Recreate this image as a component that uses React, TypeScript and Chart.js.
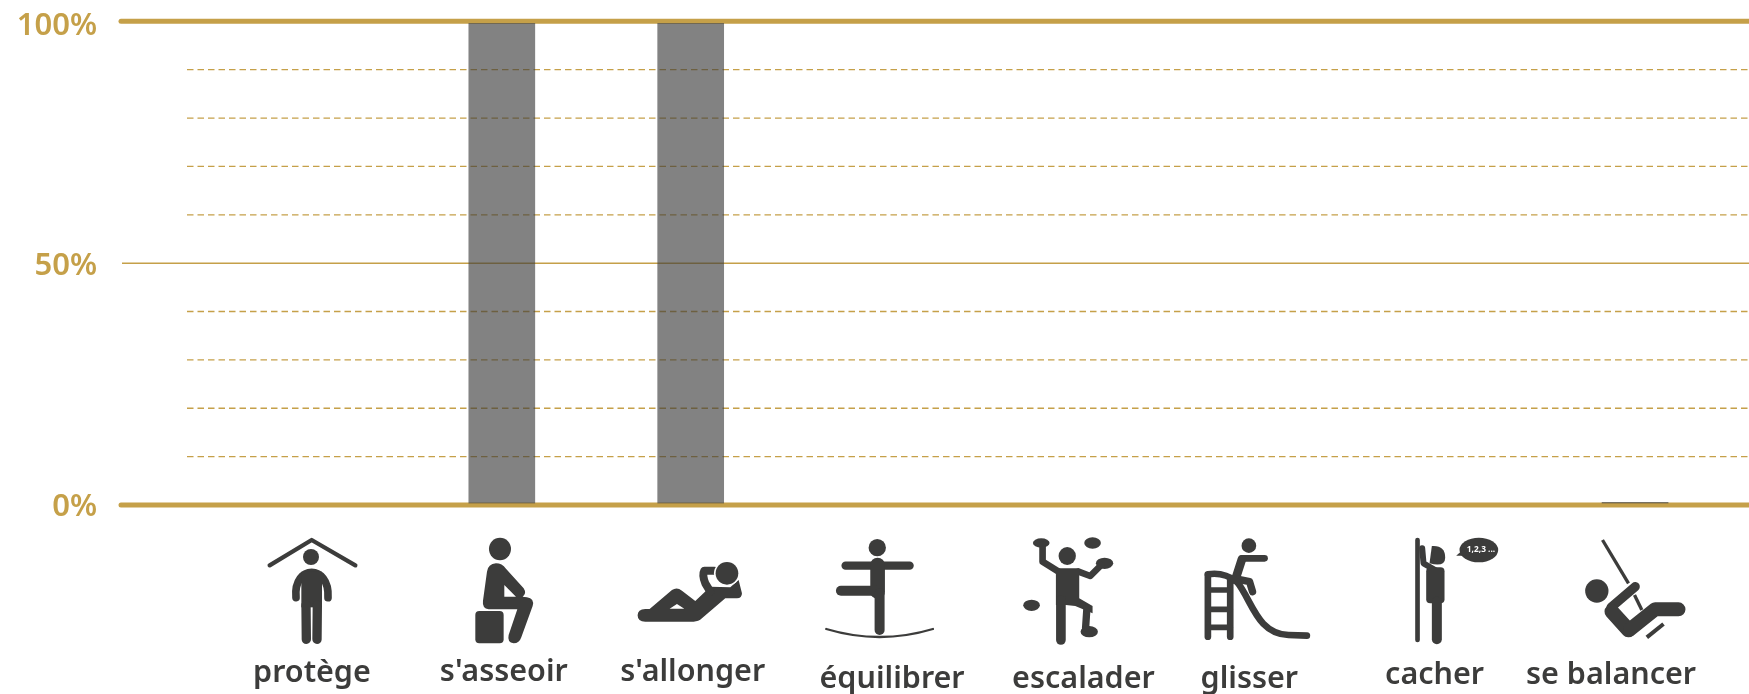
import React, { useEffect, useRef } from "react";
import { Chart, registerables } from "chart.js";

Chart.register(...registerables);

const categories = ["protège", "s'asseoir", "s'allonger", "équilibrer", "escalader", "glisser", "cacher", "se balancer"];
const values = [0, 100, 100, 0, 0, 0, 0, 0.3];
const majorLines = [0, 50, 100];
const dashedLines = [10, 20, 30, 40, 60, 70, 80, 90];
const yTickLabels = ["0%", "50%", "100%"];

const GOLD = "#c5a049";
const DARK = "#3c3c3b";
const BAR = "rgba(60,60,59,0.64)";

// label placement relative to each category centre
const labelDx = [-1, 2, 2, 12.5, 15, -8, -11.6, -24];
const labelY = [682, 681, 681, 688, 688, 688, 684, 684];
// pictogram crop origin relative to each category centre
const iconDx = [-62.6, -56.5, -60.4, -59.3, -53.2, -62.1, -46, -59.9];
const ICON_Y = 530;
// the rules sit a touch outside the bars' extent
const ruleValue = (v: number) => v * 1.00625 - 0.27;

type Ctx = CanvasRenderingContext2D;
const stroke = (c: Ctx, w: number, d: string, cap: CanvasLineCap = "round") => {
  c.lineWidth = w;
  c.lineCap = cap;
  c.lineJoin = "round";
  c.stroke(new Path2D(d));
};
const fill = (c: Ctx, d: string, rule: CanvasFillRule = "nonzero") => c.fill(new Path2D(d), rule);
const ell = (c: Ctx, x: number, y: number, rx: number, ry: number) => {
  c.beginPath();
  c.ellipse(x, y, rx, ry, 0, 0, Math.PI * 2);
  c.fill();
};

const icons: ((c: Ctx) => void)[] = [
  (c) => {
    stroke(c, 13, "M58 106 L184 30 L315 106");
    ell(c, 182, 81, 24, 24);
    stroke(c, 23, "M137 203 C132 150 160 127 184 127 C208 127 236 150 233 203");
    fill(c, "M153 125 L215 125 L215 232 L153 232 Z");
    stroke(c, 28, "M167 225 L168 328");
    stroke(c, 28, "M201 225 L200 328");
  },
  (c) => {
    ell(c, 164, 57, 33, 34);
    c.beginPath();
    c.roundRect(90, 243, 85, 97, 12);
    c.fill();
    fill(
      c,
      "M125 125 Q128 102 152 100 Q170 100 182 116 L235 175 Q245 190 232 200 L245 202 Q268 205 262 228 L228 322 Q222 340 205 340 Q185 338 190 315 L216 238 L130 238 Q110 235 113 212 Z M177 165 L177 200 L212 200 Z",
      "evenodd"
    );
  },
  (c) => {
    fill(
      c,
      "M45 237 L58 237 L125 180 Q140 170 155 182 L195 213 L240 170 L300 172 L325 150 L335 190 Q335 205 320 205 L285 205 L215 265 Q205 275 190 275 L45 275 Q22 275 22 256 Q22 238 45 237 Z M118 236 L162 236 L140 222 Z",
      "evenodd"
    );
    stroke(c, 24, "M252 122 L222 122 Q215 135 225 160 L240 185");
    c.fillStyle = "#ffffff";
    ell(c, 290, 130, 39, 38);
    c.fillStyle = DARK;
    ell(c, 290, 130, 34, 34);
  },
  (c) => {
    ell(c, 171, 53, 26, 26);
    stroke(c, 25, "M76 107 L268 107");
    stroke(c, 44, "M172 105 L172 185");
    stroke(c, 30, "M62 182 L165 182");
    stroke(c, 30, "M178 190 L178 300");
    stroke(c, 7, "M18 297 Q178 345 338 297");
  },
  (c) => {
    ell(c, 78, 39, 25, 14);
    ell(c, 232, 39, 25, 17);
    ell(c, 268, 100, 26, 17);
    ell(c, 49, 226, 25, 17);
    ell(c, 222, 305, 26, 17);
    ell(c, 156, 78, 26, 27);
    stroke(c, 20, "M82 45 L82 95 L130 125");
    stroke(c, 20, "M190 125 L225 138 L258 105");
    fill(c, "M122 115 L192 115 L192 205 L232 228 L232 250 L180 228 L152 225 L122 225 Z");
    stroke(c, 29, "M137 210 L137 330");
    stroke(c, 22, "M215 235 L211 295");
  },
  (c) => {
    ell(c, 161, 47, 22, 22);
    stroke(c, 20, "M140 85 L208 85");
    stroke(c, 26, "M140 88 L120 150");
    stroke(c, 22, "M130 148 L163 155 L172 185");
    stroke(c, 20, "M38 320 L38 135");
    stroke(c, 20, "M105 320 L105 145");
    stroke(c, 20, "M38 133 Q85 125 125 155 C170 210 185 312 280 315 L335 317");
    stroke(c, 17, "M38 180 L105 180");
    stroke(c, 17, "M38 238 L105 238");
    stroke(c, 17, "M38 292 L105 292");
  },
  (c) => {
    stroke(c, 14, "M52 30 L52 330");
    fill(c, "M95 48 Q135 45 135 83 Q135 112 88 100 Z");
    stroke(c, 18, "M66 55 L70 100 L118 128");
    c.beginPath();
    c.roundRect(78, 112, 55, 108, 12);
    c.fill();
    stroke(c, 30, "M110 215 L110 328");
    ell(c, 236, 60, 58, 37);
    fill(c, "M168 77 L190 58 L200 77 Z");
    c.fillStyle = "#ffffff";
    c.font = "700 25px 'Open Sans'";
    c.textAlign = "left";
    c.textBaseline = "middle";
    c.fillText("1,2,3 ...", 200, 60);
    c.fillStyle = DARK;
  },
  (c) => {
    stroke(c, 10, "M82 30 L160 160", "butt");
    stroke(c, 10, "M178 195 L200 240", "butt");
    ell(c, 65, 183, 35, 35);
    stroke(c, 28, "M180 170 L108 232");
    stroke(c, 44, "M110 245 L160 300");
    stroke(c, 42, "M165 298 L240 238 L310 238");
    stroke(c, 12, "M215 322 L265 282", "butt");
  },
];

const decorations = {
  id: "decorations",
  afterUpdate(chart: any) {
    // y tick labels sit a little below their rule
    for (const item of chart.scales.y.getLabelItems()) item.options.translation[1] += 3;
  },
  beforeDatasetsDraw(chart: any) {
    const c: Ctx = chart.ctx;
    const y = chart.scales.y;
    const line = chart.width;
    c.save();
    c.strokeStyle = GOLD;
    for (const v of dashedLines) {
      const py = y.getPixelForValue(ruleValue(v));
      c.lineWidth = 1.3;
      c.lineCap = "butt";
      c.setLineDash([6.5, 4]);
      c.beginPath();
      c.moveTo(187, py);
      c.lineTo(line, py);
      c.stroke();
    }
    c.setLineDash([]);
    for (const v of majorLines) {
      const heavy = v !== 50;
      const py = y.getPixelForValue(ruleValue(v));
      c.lineWidth = heavy ? 5 : 1.5;
      c.lineCap = heavy ? "round" : "butt";
      c.beginPath();
      c.moveTo(heavy ? 121 : 122, py);
      c.lineTo(line + 5, py);
      c.stroke();
    }
    c.restore();
  },
  afterDraw(chart: any) {
    const c: Ctx = chart.ctx;
    const x = chart.scales.x;
    categories.forEach((name, i) => {
      const cx = x.getPixelForValue(i);
      c.save();
      c.translate(cx + iconDx[i], ICON_Y);
      c.scale(1 / 3, 1 / 3);
      c.fillStyle = DARK;
      c.strokeStyle = DARK;
      icons[i](c);
      c.restore();
      c.save();
      c.fillStyle = DARK;
      c.font = "600 30.5px 'Noto Sans'";
      c.textAlign = "center";
      c.textBaseline = "alphabetic";
      c.fillText(name, cx + labelDx[i], labelY[i]);
      c.restore();
    });
  },
};

export default function App() {
  const ref = useRef<HTMLCanvasElement>(null);
  useEffect(() => {
    const chart = new Chart(ref.current as HTMLCanvasElement, {
      type: "bar",
      data: {
        labels: categories,
        datasets: [
          {
            data: values,
            backgroundColor: (ctx: any) => (ctx.raw > 0 ? BAR : "rgba(0,0,0,0)"),
            barThickness: 66,
            borderWidth: 0,
          },
        ],
      },
      options: {
        animation: false,
        responsive: false,
        events: [],
        layout: { padding: { top: 23, right: 19.5, bottom: 190.3, left: 0 } },
        plugins: { legend: { display: false }, tooltip: { enabled: false } },
        scales: {
          x: { display: false, grid: { display: false } },
          y: {
            min: 0,
            max: 100,
            afterFit: (s: any) => {
              s.width = 218.5;
            },
            grid: {
              drawOnChartArea: false,
              drawTicks: true,
              tickLength: 121.5,
              tickColor: "rgba(0,0,0,0)",
            },
            border: { display: false },
            ticks: {
              stepSize: 50,
              padding: 0,
              color: GOLD,
              font: { family: "'Noto Sans'", size: 31, weight: 600 },
              callback: (v: any) => yTickLabels[majorLines.indexOf(Number(v))],
            },
          },
        },
      },
      plugins: [decorations],
    } as any);
    return () => chart.destroy();
  }, []);
  return (
    <div style={{ position: "absolute", left: 0, top: 0, width: 1749, height: 694, overflow: "hidden" }}>
      <canvas ref={ref} width={1749} height={694} style={{ display: "block" }} />
    </div>
  );
}
